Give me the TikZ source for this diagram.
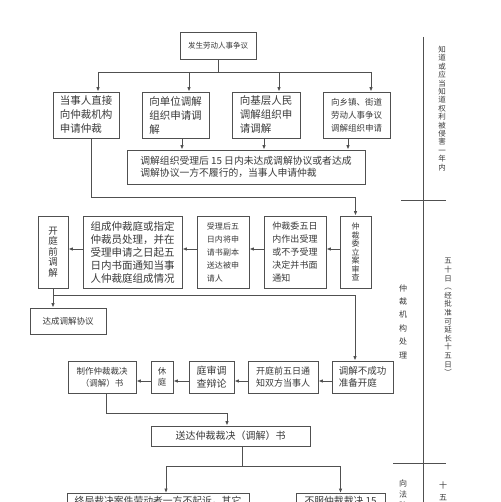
\documentclass[tikz,border=0pt]{standalone}
\usepackage{fontspec}
\setmainfont{Noto Sans CJK SC}
\usetikzlibrary{arrows.meta,calc}
\definecolor{lc}{HTML}{505050}
\definecolor{tc}{HTML}{3A3A3A}
\newcommand{\fs}[2]{\fontsize{#1}{#2}\selectfont}
\newcommand{\lsp}[1]{\addfontfeatures{LetterSpace=#1}}
\begin{document}
\begin{tikzpicture}[x=1pt,y=-1pt,
  bx/.style={draw=lc,line width=0.9pt,inner sep=0pt,text=tc,align=left},
  vt/.style={inner sep=0pt,text=tc,align=center},
  arr/.style={draw=lc,line width=0.9pt,-{Latex[length=4.5pt,width=3.6pt]}},
  ln/.style={draw=lc,line width=0.9pt}]
\useasboundingbox (0,0) rectangle (500,502);
\fill[white] (0,0) rectangle (500,502);
\clip (0,0) rectangle (500,502);

% top
\node[bx,minimum width=76pt,minimum height=27pt,font=\fs{7.5}{9}] (top) at (218,45.5) {发生劳动人事争议};

% row 2
\node[bx,minimum width=66pt,minimum height=46pt,font=\fs{10.5}{14}] (b1) at (86,115) {当事人直接\\向仲裁机构\\申请仲裁};
\node[bx,minimum width=67pt,minimum height=46pt,font=\fs{10.5}{14}] (b2) at (175.5,115) {向单位调解\\组织申请调\\解};
\node[bx,minimum width=68pt,minimum height=46pt,font=\fs{10.5}{14}] (b3) at (266,115) {向基层人民\\调解组织申\\请调解};
\node[bx,minimum width=67pt,minimum height=46pt,font=\fs{8.5}{13}] (b4) at (356.5,115) {向乡镇、街道\\劳动人事争议\\调解组织申请};

\node[bx,minimum width=238pt,minimum height=34pt,font=\fs{9.8}{12}] (wide) at (246,167) {调解组织受理后 15 日内未达成调解协议或者达成\\调解协议一方不履行的，当事人申请仲裁};

% row 3
\node[bx,minimum width=30pt,minimum height=72pt,align=center,font=\fs{9.5}{10.5}] (kq) at (53,252) {开\\庭\\前\\调\\解};
\node[bx,minimum width=99pt,minimum height=72pt,font=\fs{10.5}{13}] (zc) at (132.5,252) {组成仲裁庭或指定\\仲裁员处理，并在\\受理申请之日起五\\日内书面通知当事\\人仲裁庭组成情况};
\node[bx,minimum width=52pt,minimum height=72pt,font=\fs{8}{13}\lsp{0.25}] (sl) at (223,252) {受理后五\\日内将申\\请书副本\\送达被申\\请人};
\node[bx,minimum width=62pt,minimum height=72pt,font=\fs{9}{13}\lsp{0.05}] (wr) at (295,252) {仲裁委五日\\内作出受理\\或不予受理\\决定并书面\\通知};
\node[bx,minimum width=31pt,minimum height=72pt,align=center,font=\fs{8}{8.5}] (la) at (355.5,252) {仲\\裁\\委\\立\\案\\审\\查};

\node[bx,minimum width=76pt,minimum height=26pt,font=\fs{8.5}{10}] (dc) at (68,321) {达成调解协议};

% row 4
\node[bx,minimum width=68pt,minimum height=32pt,align=center,font=\fs{8.5}{12}] (zz) at (102,377) {制作仲裁裁决\\（调解）书};
\node[bx,minimum width=22pt,minimum height=32pt,align=center,font=\fs{8.5}{11}] (xt) at (162,377) {休\\庭};
\node[bx,minimum width=45pt,minimum height=32pt,font=\fs{10}{13}] (ts) at (211.5,377) {庭审调\\查辩论};
\node[bx,minimum width=70pt,minimum height=32pt,font=\fs{9}{12}] (kt) at (283,377) {开庭前五日通\\知双方当事人};
\node[bx,minimum width=61pt,minimum height=32pt,font=\fs{9.5}{12}] (tj) at (362.5,377) {调解不成功\\准备开庭};

\node[bx,minimum width=159pt,minimum height=20pt,align=center,font=\fs{10}{12}] (sd) at (230.5,436) {送达仲裁裁决（调解）书};

% bottom (cut)
\node[bx,anchor=north,minimum width=182pt,inner ysep=3pt,font=\fs{9.8}{12}] (zj) at (158,493) {终局裁决案件劳动者一方不起诉，其它\\\phantom{终}};
\node[bx,anchor=north,minimum width=89pt,inner ysep=3pt,font=\fs{9.8}{12}] (bf) at (340.5,493) {不服仲裁裁决 15\\\phantom{终}};

% connectors top
\coordinate (j1) at (98,72);
\coordinate (j2) at (189,72);
\coordinate (j3) at (279,72);
\coordinate (j4) at (371,72);
\draw[ln] (top.south) -- (top.south |- j1);
\draw[ln] (j1) -- (j4);
\draw[arr] (j1) -- (j1 |- b1.north);
\draw[arr] (j2) -- (j2 |- b2.north);
\draw[arr] (j3) -- (j3 |- b3.north);
\draw[arr] (j4) -- (j4 |- b4.north);

\draw[arr] ($(b2.south)+(6.5,0)$) coordinate (t2) -- (t2 |- wide.north);
\draw[arr] ($(b3.south)+(-2,0)$) coordinate (t3) -- (t3 |- wide.north);
\draw[arr] ($(b4.south)+(-8.5,0)$) coordinate (t4) -- (t4 |- wide.north);
\draw[arr] ($(b1.south)+(5,0)$) -- ++(0,59) -| (la.north);

% row 3 arrows
\draw[arr] ([yshift=3pt]la.west) -- ([yshift=3pt]wr.east);
\draw[arr] ([yshift=3pt]wr.west) -- ([yshift=3pt]sl.east);
\draw[arr] ([yshift=3pt]sl.west) -- ([yshift=3pt]zc.east);
\draw[arr] ([yshift=3pt]zc.west) -- ([yshift=3pt]kq.east);
\draw[arr] (kq.south) -- (kq.south |- dc.north);
\draw[arr] (kq.south) -- ++(0,7) -| ($(tj.north)+(-7.5,0)$);

% row 4 arrows
\draw[arr] ([yshift=-4pt]tj.west) -- ([yshift=-4pt]kt.east);
\draw[arr] ([yshift=-4pt]kt.west) -- ([yshift=-4pt]ts.east);
\draw[arr] ([yshift=-4pt]ts.west) -- ([yshift=-4pt]xt.east);
\draw[arr] ([yshift=-4pt]xt.west) -- ([yshift=-4pt]zz.east);
\draw[arr] ($(zz.south)+(4,0)$) -- ++(0,20) -| ($(sd.north)+(-3.5,0)$);

\draw[ln] ($(sd.south)+(11.5,0)$) -- ++(0,20) coordinate (sj);
\draw[arr] (sj) -| ($(zj.north)+(8,0)$);
\draw[arr] (sj) -| (bf.north);

% right time line
\draw[ln] (423,37) -- (423,502);
\draw[ln] (401,200) -- (446,200);
\draw[ln] (393,463) -- (446,463);

\node[vt,font=\fs{7.5}{8.4}] (r1) at (442,108.5) {知\\道\\或\\应\\当\\知\\道\\权\\利\\被\\侵\\害\\一\\年\\内};
\node[vt,font=\fs{7.5}{8.6}] (r2) at (448,317) {五\\十\\日\\︵\\经\\批\\准\\可\\延\\长\\十\\五\\日\\︶};
\node[vt,font=\fs{8}{13.4}] (r3) at (403,321.5) {仲\\裁\\机\\构\\处\\理};
\node[vt,font=\fs{8}{11}] (r4) at (403,494) {向\\法\\院};
\node[vt,font=\fs{8}{12}] (r5) at (443,491) {十\\五};
\end{tikzpicture}
\end{document}
